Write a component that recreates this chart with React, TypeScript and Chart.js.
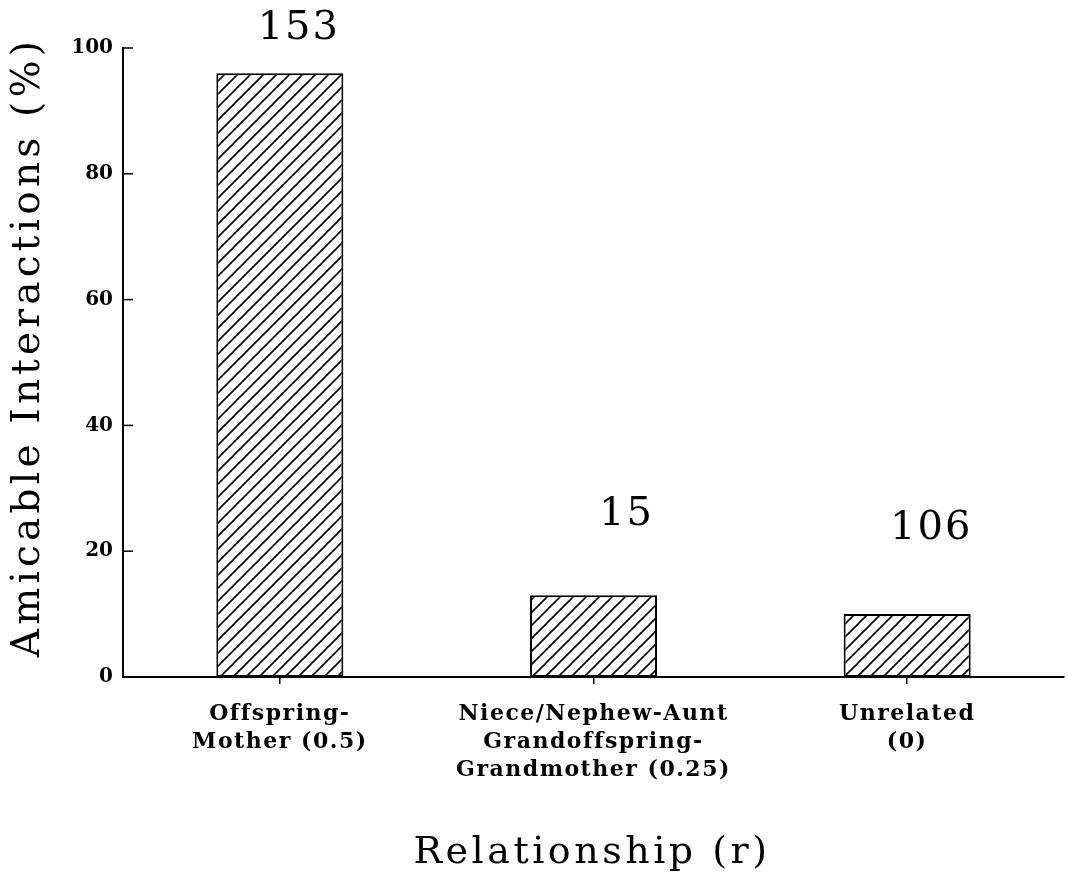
import React, { useEffect, useRef } from "react";
import { Chart, registerables } from "chart.js";

Chart.register(...registerables);

const categories: string[][] = [
  ["Offspring-", "Mother (0.5)"],
  ["Niece/Nephew-Aunt", "Grandoffspring-", "Grandmother (0.25)"],
  ["Unrelated", "(0)"],
];
const amicablePct: number[] = [96, 13, 10];
const sampleSizes: string[] = ["153", "15", "106"];
const yTicks: number[] = [0, 20, 40, 60, 80, 100];

const yTitle = "Amicable Interactions (%)";
const xTitle = "Relationship (r)";

function makeHatch(): CanvasPattern | string {
  const s = 13;
  const c = document.createElement("canvas");
  c.width = s;
  c.height = s;
  const g = c.getContext("2d");
  if (!g) return "white";
  g.fillStyle = "#fff";
  g.fillRect(0, 0, s, s);
  g.strokeStyle = "#000";
  g.lineWidth = 1.6;
  g.beginPath();
  g.moveTo(-2, s + 2);
  g.lineTo(s + 2, -2);
  g.moveTo(-2, 2);
  g.lineTo(2, -2);
  g.moveTo(s - 2, s + 2);
  g.lineTo(s + 2, s - 2);
  g.stroke();
  const p = g.createPattern(c, "repeat");
  return p || "white";
}

const labelOffsets = [
  [19, 45],
  [33, 81],
  [24, 85],
];

const decorPlugin = {
  id: "decor",
  beforeDraw(chart: any) {
    (chart.ctx as any).letterSpacing = "0px";
  },
  afterDatasetsDraw(chart: any) {
    // x tick labels (ticks.z: 1) are drawn after this hook: widen their spacing
    (chart.ctx as any).letterSpacing = "1.5px";
  },
  afterDraw(chart: any) {
    const ctx = chart.ctx;
    (ctx as any).letterSpacing = "0px";
    const area = chart.chartArea;
    const yScale = chart.scales.y;
    ctx.save();
    // inward y tick marks
    ctx.strokeStyle = "#000";
    ctx.lineWidth = 1.5;
    yTicks.forEach((v) => {
      const py = yScale.getPixelForValue(v);
      ctx.beginPath();
      ctx.moveTo(area.left, py);
      ctx.lineTo(area.left + 10, py);
      ctx.stroke();
    });
    // sample-size labels
    const meta = chart.getDatasetMeta(0);
    ctx.fillStyle = "#000";
    (ctx as any).letterSpacing = "2px";
    ctx.font = "40px 'DejaVu Serif'";
    ctx.textAlign = "center";
    ctx.textBaseline = "middle";
    meta.data.forEach((bar: any, i: number) => {
      const [dx, dy] = labelOffsets[i];
      ctx.fillText(sampleSizes[i], bar.x + dx, bar.y - dy);
    });
    // axis titles
    (ctx as any).letterSpacing = "3.5px";
    ctx.font = "38px 'DejaVu Serif'";
    ctx.fillText(xTitle, 592, 853);
    ctx.translate(29, 347);
    ctx.rotate(-Math.PI / 2);
    (ctx as any).letterSpacing = "4.2px";
    ctx.font = "39px 'DejaVu Serif'";
    ctx.fillText(yTitle, 0, 0);
    ctx.restore();
    (ctx as any).letterSpacing = "0px";
  },
};

export default function App() {
  const ref = useRef<HTMLCanvasElement | null>(null);
  useEffect(() => {
    if (!ref.current) return;
    const hatch = makeHatch();
    const chart = new Chart(ref.current, {
      type: "bar",
      data: {
        labels: categories,
        datasets: [
          {
            data: amicablePct,
            backgroundColor: hatch as any,
            borderColor: "#000",
            borderWidth: 2,
            borderSkipped: false,
            barPercentage: 0.405,
            categoryPercentage: 1,
          },
        ],
      },
      options: {
        responsive: false,
        animation: false,
        devicePixelRatio: 1,
        layout: { padding: { top: 48, right: 4, left: 0, bottom: 0 } },
        plugins: {
          legend: { display: false },
          tooltip: { enabled: false },
        },
        scales: {
          x: {
            offset: true,
            grid: {
              display: true,
              offset: false,
              drawOnChartArea: false,
              drawTicks: true,
              tickLength: 7,
              color: "#000",
              lineWidth: 1.5,
            },
            border: { display: true, color: "#000", width: 2 },
            ticks: {
              z: 1,
              color: "#000",
              padding: 16,
              maxRotation: 0,
              autoSkip: false,
              font: { family: "'DejaVu Serif'", size: 22, weight: "bold", lineHeight: 1.27 },
            },
            afterFit(scale: any) {
              scale.height = 198;
            },
          },
          y: {
            min: 0,
            max: 100,
            afterBuildTicks(scale: any) {
              scale.ticks = yTicks.map((v) => ({ value: v }));
            },
            grid: { display: false, drawTicks: false },
            border: { display: true, color: "#000", width: 2 },
            ticks: {
              color: "#000",
              padding: 10,
              font: { family: "'DejaVu Serif'", size: 20, weight: "bold" },
            },
            afterFit(scale: any) {
              scale.width = 123;
            },
          },
        },
      },
      plugins: [decorPlugin],
    });
    return () => chart.destroy();
  }, []);
  return (
    <div style={{ position: "fixed", left: 0, top: 0, width: 1068, height: 875, background: "#fff" }}>
      <canvas ref={ref} width={1068} height={875} style={{ width: 1068, height: 875 }} />
    </div>
  );
}
